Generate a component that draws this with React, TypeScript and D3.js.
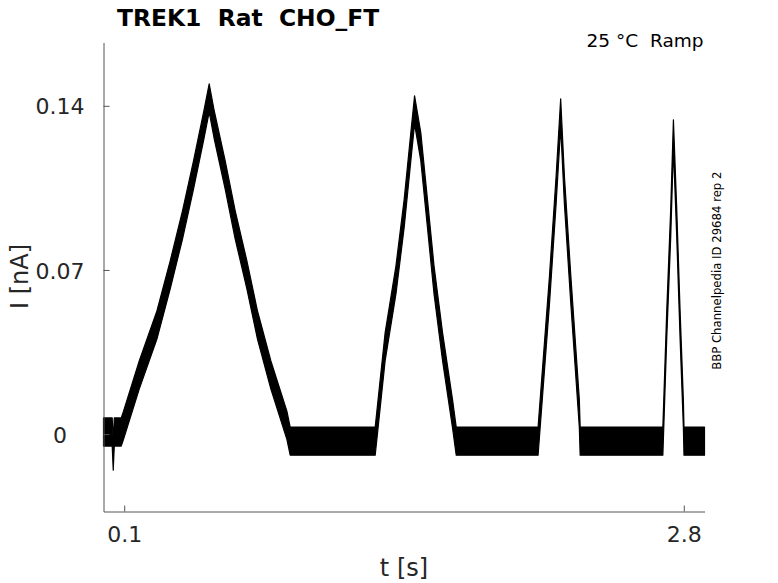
import { useEffect, useRef } from 'react';
import * as d3 from 'd3';

// trace: time [s] and mean current [nA] at the corners of the ramps
const traceTime = [
  0.0, 0.042, 0.047, 0.052, 0.0855, 0.0966, 0.1724, 0.2577, 0.3219, 0.3812, 0.4343, 0.4845,
  0.51, 0.5342, 0.5872, 0.6355, 0.6919, 0.743, 0.8077, 0.8849, 0.9008, 1.311, 1.359, 1.411,
  1.451, 1.483, 1.501, 1.531, 1.563, 1.595, 1.636, 1.684, 1.702, 2.097, 2.152, 2.184,
  2.206, 2.224, 2.255, 2.296, 2.3, 2.699, 2.718, 2.737, 2.75, 2.766, 2.782, 2.798,
  2.801, 2.9,
];
const traceCurrent = [
  0.0009, 0.0009, -0.0094, 0.0009, 0.0009, 0.0038, 0.0252, 0.0465, 0.0679, 0.0892, 0.1105, 0.1319,
  0.1434, 0.1319, 0.1105, 0.0892, 0.0679, 0.0465, 0.0252, 0.0038, -0.003, -0.003, 0.0373, 0.0657,
  0.0942, 0.1226, 0.1383, 0.1226, 0.0942, 0.0657, 0.0373, 0.0088, -0.003, -0.003, 0.0615, 0.1041,
  0.137, 0.1041, 0.0615, 0.0088, -0.003, -0.003, 0.0472, 0.0901, 0.128, 0.0901, 0.0472, 0.0088,
  -0.003, -0.003,
];
// half width of the recording noise band [nA]
const noiseHalfWidth = 0.006;

const xTickValues = [0.1, 2.8];
const yTickValues = [0, 0.07, 0.14];
const xTickLabels = ['0.1', '2.8'];
const yTickLabels = ['0', '0.07', '0.14'];

const App = () => {
  const svgRef = useRef<SVGSVGElement>(null);

  useEffect(() => {
    if (!svgRef.current) return;
    d3.select(svgRef.current).selectAll('*').remove();

    const width = 778;
    const height = 583;
    const font = 'DejaVu Sans, sans-serif';

    const svg = d3
      .select(svgRef.current)
      .attr('width', width)
      .attr('height', height)
      .attr('font-family', font);

    const xScale = d3.scaleLinear().domain([0, 2.9]).range([103.5, 704.5]);
    const yScale = d3.scaleLinear().domain([-0.033, 0.167]).range([511.5, 42.5]);

    // noise band around the trace
    const band = d3
      .area<number>()
      .x((_, i) => xScale(traceTime[i]))
      .y0((d) => yScale(d - noiseHalfWidth))
      .y1((d) => yScale(d + noiseHalfWidth));

    svg
      .append('path')
      .datum(traceCurrent)
      .attr('d', band)
      .attr('fill', '#000')
      .attr('stroke', '#000')
      .attr('stroke-width', 1.2)
      .attr('stroke-linejoin', 'round');

    // axes
    const xAxis = d3
      .axisBottom(xScale)
      .tickValues(xTickValues)
      .tickFormat((_, i) => xTickLabels[i])
      .tickSizeInner(-6)
      .tickSizeOuter(0)
      .tickPadding(14.4);

    svg
      .append('g')
      .attr('transform', `translate(0,${yScale(-0.033)})`)
      .call(xAxis)
      .call((g) => g.select('.domain').attr('stroke', '#555'))
      .call((g) => g.selectAll('.tick line').attr('stroke', '#555'))
      .call((g) =>
        g
          .selectAll('.tick text')
          .attr('font-size', 22)
          .attr('font-family', font)
          .attr('fill', '#262626')
      );

    const yAxis = d3
      .axisLeft(yScale)
      .tickValues(yTickValues)
      .tickFormat((_, i) => yTickLabels[i])
      .tickSizeInner(-6)
      .tickSizeOuter(0);

    const axisX = xScale(0);
    svg
      .append('g')
      .attr('transform', `translate(${axisX},0)`)
      .call(yAxis)
      .call((g) => g.select('.domain').attr('stroke', '#555'))
      .call((g) => g.selectAll('.tick line').attr('stroke', '#555'))
      .call((g) =>
        g
          .selectAll('.tick text')
          .attr('font-size', 22)
          .attr('font-family', font)
          .attr('fill', '#262626')
          .attr('text-anchor', 'middle')
          .attr('x', 60 - axisX)
          .attr('dy', '0.37em')
      );

    // axis labels
    svg
      .append('text')
      .attr('x', 404)
      .attr('y', 576)
      .attr('text-anchor', 'middle')
      .attr('font-size', 24)
      .attr('fill', '#262626')
      .text('t [s]');

    svg
      .append('text')
      .attr('transform', 'translate(28,276.5) rotate(-90)')
      .attr('text-anchor', 'middle')
      .attr('font-size', 24)
      .attr('fill', '#262626')
      .text('I [nA]');

    // titles and annotations
    svg
      .append('text')
      .attr('x', 117)
      .attr('y', 26)
      .attr('font-size', 23.4)
      .attr('font-weight', 'bold')
      .attr('fill', '#000')
      .style('white-space', 'pre')
      .text('TREK1  Rat  CHO_FT');

    svg
      .append('text')
      .attr('x', 703.5)
      .attr('y', 47)
      .attr('text-anchor', 'end')
      .attr('font-size', 18.5)
      .attr('fill', '#000')
      .style('white-space', 'pre')
      .text('25 °C  Ramp');

    svg
      .append('text')
      .attr('transform', 'translate(720.5,270.7) rotate(-90)')
      .attr('text-anchor', 'middle')
      .attr('font-size', 11.7)
      .attr('fill', '#000')
      .text('BBP Channelpedia ID 29684 rep 2');
  }, []);

  return (
    <svg
      ref={svgRef}
      style={{ position: 'absolute', left: 0, top: 0, background: '#fff' }}
    ></svg>
  );
};

export default App;
